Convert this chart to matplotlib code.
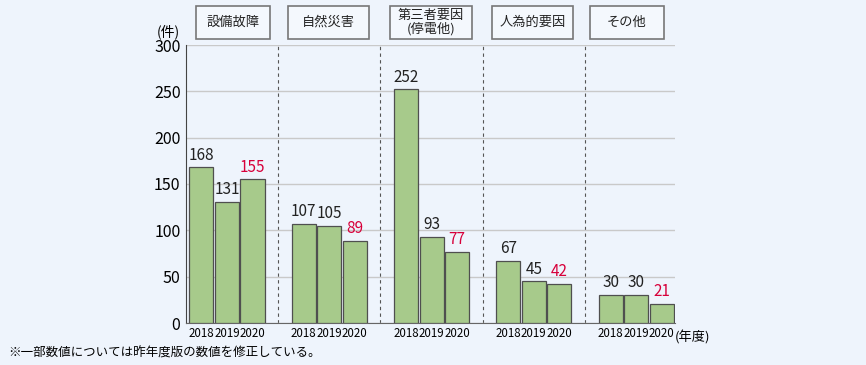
import numpy as np
import matplotlib
matplotlib.use("Agg")
import matplotlib.pyplot as plt
from matplotlib.patches import Rectangle

plt.rcParams['font.family'] = ['Noto Sans CJK JP', 'DejaVu Sans']

# data
categories = ["設備故障", "自然災害", "第三者要因\n(停電他)", "人為的要因", "その他"]
years = ["2018", "2019", "2020"]
v2018 = [168, 107, 252, 67, 30]
v2019 = [131, 105, 93, 45, 30]
v2020 = [155, 89, 77, 42, 21]

bg = "#eef4fc"
bar_col = "#a7ca8b"
red = "#d7003a"

fig = plt.figure(figsize=(8.66, 3.65), dpi=100, facecolor=bg)
ax = fig.add_axes([186/866, 42/365, 489/866, 278/365])
ax.set_facecolor(bg)

x = np.arange(len(categories))
off = 0.25
w = 0.235
series = [v2018, v2019, v2020]
for k, vals in enumerate(series):
    xs = x + (k - 1) * off
    ax.bar(xs, vals, width=w, color=bar_col, edgecolor="#4f4f4f", linewidth=0.9, zorder=3)
    for xi, v in zip(xs, vals):
        ax.text(xi, v + 4, str(v), ha="center", va="bottom", fontsize=11,
                color=red if k == 2 else "#222222", zorder=4)

ax.set_xlim(-0.4, 4.38)
ax.set_ylim(0, 300)
ax.set_yticks(range(0, 301, 50))
ax.tick_params(axis="y", length=0, labelsize=11.5, pad=4)
ax.grid(axis="y", color="#c9c9c9", linewidth=1, zorder=0)

# year tick labels under each bar
ticks = np.concatenate([x - off, x, x + off])
labs = [years[0]] * 5 + [years[1]] * 5 + [years[2]] * 5
ax.set_xticks(ticks)
ax.set_xticklabels(labs, fontsize=8.3)
ax.tick_params(axis="x", length=0, pad=3)

for b in x[:-1] + 0.5:
    ax.axvline(b, color="#555555", linestyle=(0, (3, 3)), linewidth=0.8, zorder=1)

for s in ["top", "right"]:
    ax.spines[s].set_visible(False)
ax.spines["left"].set_color("#444444")
ax.spines["bottom"].set_color("#666666")

# header boxes (pixel extents)
boxes = [(196, 270), (288, 369), (390, 472), (492, 573), (590, 664)]
for (x0, x1), name in zip(boxes, categories):
    fig.add_artist(Rectangle((x0 / 866, 1 - 39 / 365), (x1 - x0) / 866, 33 / 365,
                             transform=fig.transFigure, facecolor="#f4f8fd",
                             edgecolor="#777777", linewidth=1.2))
    fig.text((x0 + x1) / 2 / 866, 1 - 22.5 / 365, name, ha="center", va="center",
             fontsize=9.5, linespacing=1.05, color="#222222")

fig.text(168 / 866, 1 - 32 / 365, "(件)", ha="center", va="center", fontsize=10)
fig.text(692 / 866, 1 - 337 / 365, "(年度)", ha="center", va="center", fontsize=9.5)
fig.text(8 / 866, 1 - 353 / 365, "※一部数値については昨年度版の数値を修正している。", ha="left",
         va="center", fontsize=9)

fig.savefig("out.png", dpi=100, facecolor=bg)
